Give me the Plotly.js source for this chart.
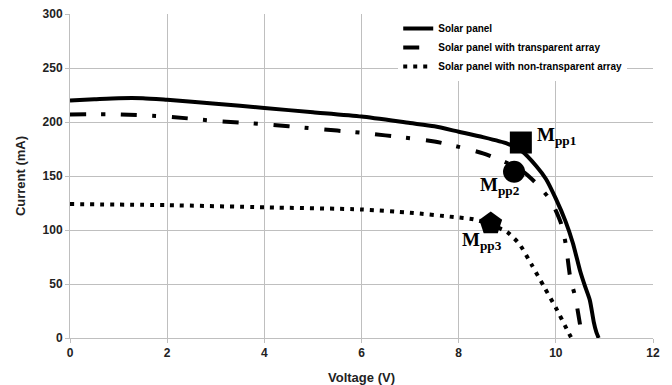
<!DOCTYPE html>
<html><head><meta charset="utf-8">
<script src="https://cdn.plot.ly/plotly-3.0.1.min.js"></script>
<style>html,body{margin:0;padding:0;background:#fff}#chart{width:672px;height:385px}</style>
</head><body><div id="chart"></div>
<script>
var seriesNames = ["Solar panel", "Solar panel with transparent array", "Solar panel with non-transparent array"];

var panelV = [0, 0.5, 1, 1.5, 2, 3, 4, 5, 6, 7, 7.5, 8, 8.5, 9, 9.3, 9.6, 9.8, 10, 10.2, 10.35, 10.5, 10.6, 10.7, 10.78, 10.83, 10.88];
var panelI = [220, 221, 222, 222, 220.5, 217, 213, 209, 205, 199, 196, 191, 186, 180, 173, 159, 147, 129, 108, 88, 62, 48, 35, 15, 6, 0];

var transV = [0, 1, 2, 3, 4, 5, 6, 7, 7.5, 8, 8.5, 9, 9.3, 9.6, 9.9, 10.1, 10.2, 10.3, 10.4, 10.5, 10.55];
var transI = [207, 207, 205, 201, 198, 194, 190, 185, 182, 177, 171, 162, 155, 143, 127, 107, 88, 55, 38, 12, 0];

var nonTransV = [0, 2, 4, 6, 7, 7.9, 8.3, 8.6, 9, 9.25, 9.5, 9.75, 10, 10.25, 10.32];
var nonTransI = [124, 123, 121, 119, 116, 112, 110, 106, 98, 87, 68, 48, 28, 6, 0];

var mppLabels = ["pp1", "pp2", "pp3"];
var mppV = [9.28, 9.14, 8.66];
var mppI = [181, 154, 106];
var mppSymbols = ["square", "circle", "pentagon"];
var mppLabelV = [9.57, 8.4, 8.03];
var mppLabelI = [187, 141, 90];

var lineStyle = {color: "#000", width: 4, shape: "spline", smoothing: 0.6};
var traces = [
  {x: panelV, y: panelI, name: seriesNames[0], mode: "lines",
   line: Object.assign({}, lineStyle, {dash: "solid"})},
  {x: transV, y: transI, name: seriesNames[1], mode: "lines",
   line: Object.assign({}, lineStyle, {dash: "16px,15px,4px,16px"})},
  {x: nonTransV, y: nonTransI, name: seriesNames[2], mode: "lines",
   line: Object.assign({}, lineStyle, {dash: "4px,6px"})}
];
for (var k = 0; k < mppV.length; k++) {
  traces.push({x: [mppV[k]], y: [mppI[k]], mode: "markers", showlegend: false,
    marker: {symbol: mppSymbols[k], size: k === 2 ? 24 : 22, color: "#000"}});
}
var annotations = mppLabels.map(function (s, k) {
  return {x: mppLabelV[k], y: mppLabelI[k], xref: "x", yref: "y", showarrow: false,
    xanchor: "left", yanchor: "middle",
    text: "<b>M<sub>" + s + "</sub></b>",
    font: {family: "Liberation Serif, Times New Roman, serif", size: 19, color: "#000"}};
});

var tickFont = {family: "Liberation Sans, Arial, sans-serif", size: 12, color: "#222", weight: 700};
var layout = {
  width: 672, height: 385,
  margin: {l: 70, r: 19, t: 14, b: 47},
  paper_bgcolor: "#fff", plot_bgcolor: "#fff",
  showlegend: true,
  legend: {x: 0.563, y: 1.0, xanchor: "left", yanchor: "top", bgcolor: "#fff",
    font: {family: "Liberation Sans, Arial, sans-serif", size: 10, color: "#000", weight: 700},
    tracegroupgap: 0, itemwidth: 30},
  xaxis: {range: [0, 12], dtick: 2, tick0: 0, showgrid: true, gridcolor: "#bfbfbf", gridwidth: 1,
    zeroline: false, showline: true, linecolor: "#bfbfbf", ticks: "outside", ticklen: 4, tickcolor: "#bfbfbf",
    tickfont: tickFont, mirror: false,
    title: {text: "Voltage (V)", font: {family: "Liberation Sans, Arial, sans-serif", size: 13, color: "#222", weight: 700}, standoff: 14}},
  yaxis: {range: [0, 300], dtick: 50, showgrid: true, gridcolor: "#bfbfbf", gridwidth: 1,
    zeroline: false, showline: true, linecolor: "#bfbfbf", ticks: "outside", ticklen: 4, tickcolor: "#bfbfbf",
    tickfont: tickFont,
    title: {text: "Current (mA)", font: {family: "Liberation Sans, Arial, sans-serif", size: 13, color: "#222", weight: 700}, standoff: 14}},
  annotations: annotations
};
Plotly.newPlot("chart", traces, layout, {displayModeBar: false, staticPlot: true});
</script></body></html>
